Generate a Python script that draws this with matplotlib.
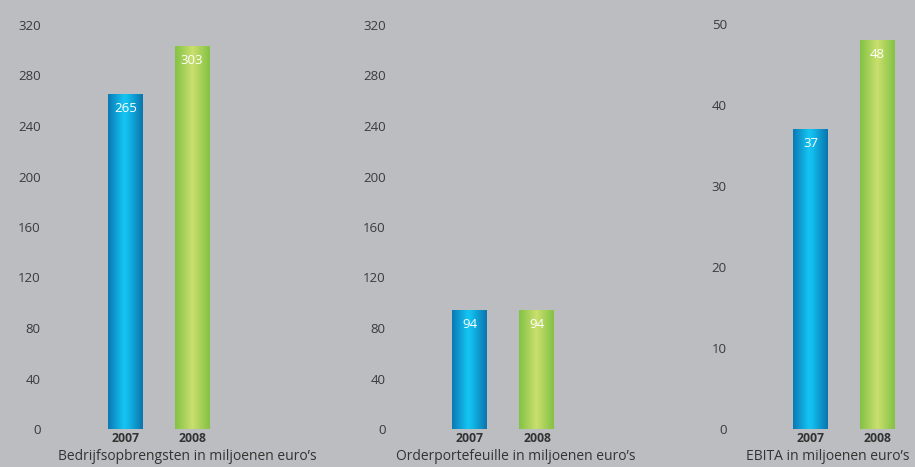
import matplotlib
matplotlib.use("Agg")
import matplotlib.pyplot as plt
import matplotlib.transforms as mtransforms
import numpy as np
from matplotlib.colors import LinearSegmentedColormap

plt.rcParams['font.family'] = ['Open Sans', 'DejaVu Sans']

years = ["2007", "2008"]
omzet = [265, 303]
orders = [94, 94]
ebita = [37, 48]
titles = ["Bedrijfsopbrengsten in miljoenen euro\u2019s",
          "Orderportefeuille in miljoenen euro\u2019s",
          "EBITA in miljoenen euro\u2019s"]
yticks_12 = [0, 40, 80, 120, 160, 200, 240, 280, 320]
yticks_3 = [0, 10, 20, 30, 40, 50]

BG = "#bcbdc0"
W, H = 915, 467
fig = plt.figure(figsize=(W / 100, H / 100), dpi=100, facecolor=BG)

blue_cmap = LinearSegmentedColormap.from_list(
    "b", [(0, "#0a78b4"), (0.45, "#14c4f2"), (0.55, "#12bdee"), (1, "#0a74ae")])
green_cmap = LinearSegmentedColormap.from_list(
    "g", [(0, "#82c244"), (0.5, "#cadf6e"), (1, "#84c244")])
cmaps = [blue_cmap, green_cmap]

panels = [
    dict(vals=omzet, ticks=yticks_12, ymax=320, left=45, right=335, c0=125.5, c1=192, top=25, title_x=187),
    dict(vals=orders, ticks=yticks_12, ymax=320, left=390, right=680, c0=470, c1=537, top=25, title_x=516),
    dict(vals=ebita, ticks=yticks_3, ymax=50, left=731, right=915, c0=810.5, c1=877, top=24, title_x=828),
]
bottom_px = 429
bar_px = 35

grad = np.linspace(0, 1, 200).reshape(1, -1)
shift_up = mtransforms.ScaledTranslation(0, 2.5 / 100, fig.dpi_scale_trans)

for k, p in enumerate(panels):
    ax = fig.add_axes([p["left"] / W, (H - bottom_px) / H,
                       (p["right"] - p["left"]) / W, (bottom_px - p["top"]) / H])
    ax.set_facecolor("none")
    unit = p["c1"] - p["c0"]
    xl = (p["left"] - p["c0"]) / unit
    xr = (p["right"] - p["c0"]) / unit
    width = bar_px / unit
    x = np.arange(len(years))
    bars = ax.bar(x, p["vals"], width=width, color="none", edgecolor="none")
    for i, b in enumerate(bars):
        x0 = b.get_x()
        ax.imshow(grad, cmap=cmaps[i], extent=[x0, x0 + b.get_width(), 0, b.get_height()],
                  aspect="auto", zorder=2, interpolation="bilinear")
        ax.annotate(str(p["vals"][i]), (b.get_x() + b.get_width() / 2, b.get_height()),
                    xytext=(0, -10), textcoords="offset points", ha="center", va="center",
                    color="white", fontsize=9.5, zorder=3)
    ax.set_xlim(xl, xr)
    ax.set_ylim(0, p["ymax"])
    ax.set_yticks(p["ticks"])
    ax.set_yticklabels([str(t) for t in p["ticks"]], fontsize=9.5, color="#3a3a3a")
    for lab in ax.get_yticklabels():
        lab.set_transform(lab.get_transform() + shift_up)
    ax.set_xticks(x)
    ax.set_xticklabels(years, fontsize=8.8, fontweight="bold", color="#333333")
    ax.tick_params(axis="y", length=0, pad=3)
    ax.tick_params(axis="x", length=0, pad=2.2)
    for s in ax.spines.values():
        s.set_visible(False)
    fig.text(p["title_x"] / W, (H - 457) / H, titles[k], ha="center", va="center",
             fontsize=10, color="#333333")

fig.savefig("out.png", dpi=100, facecolor=BG)
